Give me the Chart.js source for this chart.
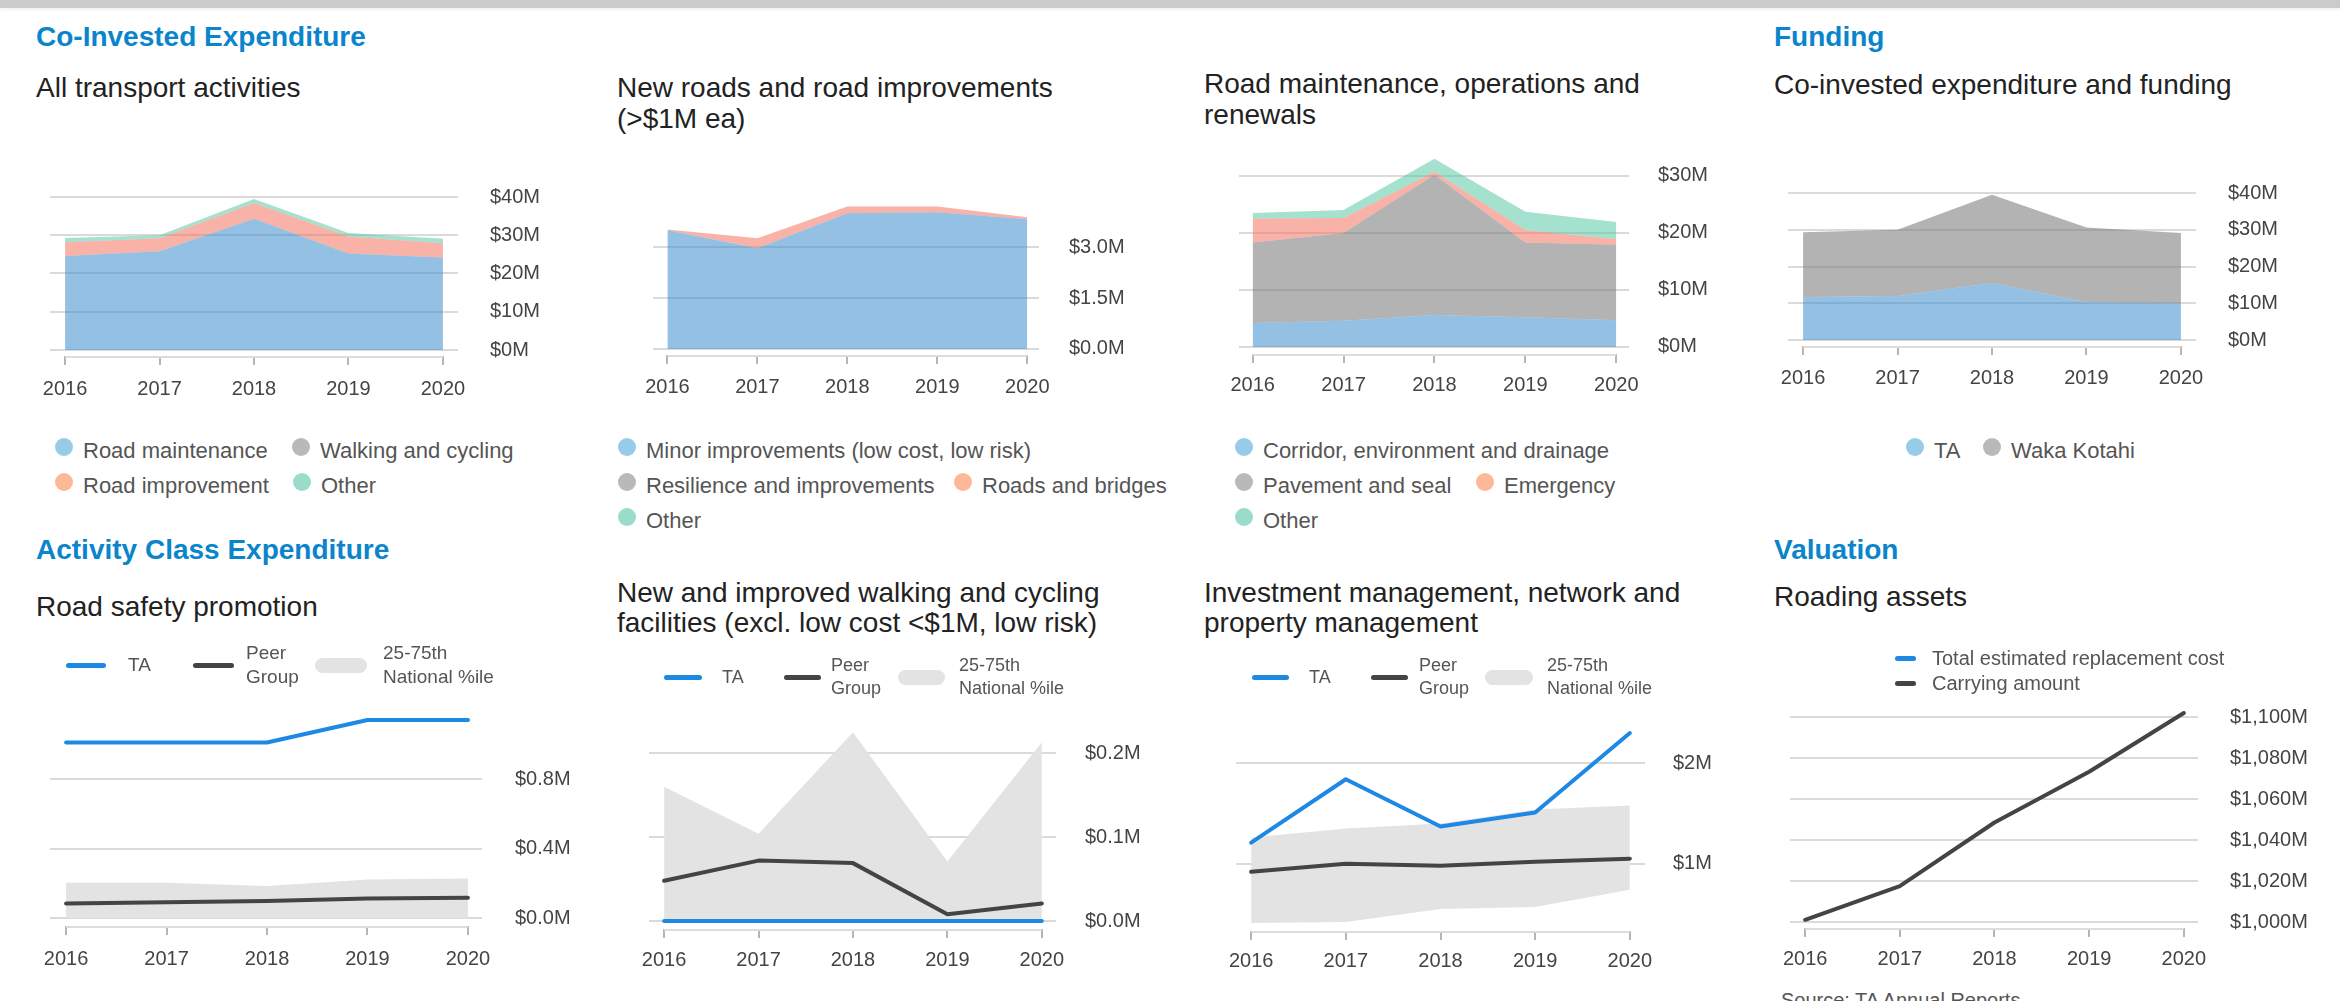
<!DOCTYPE html>
<html>
<head>
<meta charset="utf-8">
<script src="https://cdn.jsdelivr.net/npm/chart.js@4.4.1/dist/chart.umd.min.js"></script>
<style>
  body { margin: 0; width: 2340px; height: 1001px; overflow: hidden; background: #fff; position: relative;
         font-family: "Liberation Sans", Arial, sans-serif; }
  .topbar { position: absolute; left: 0; top: 0; width: 2340px; height: 8px; background: #cbcbcb; box-shadow: 0 2px 3px rgba(0,0,0,0.05); }
  .h { position: absolute; font-weight: bold; font-size: 28px; line-height: 28px; color: #0a85cc; white-space: nowrap; }
  .t { position: absolute; font-size: 28px; line-height: 31px; color: #222; white-space: nowrap; }
  .lg { position: absolute; display: flex; align-items: center; height: 24px; font-size: 22px; line-height: 24px; color: #555; white-space: nowrap; }
  .dot { width: 18px; height: 18px; border-radius: 50%; margin-right: 10px; position: relative; top: -4px; }
  .kt { position: absolute; color: #555; white-space: nowrap; }
  .sw { position: absolute; }
  .src { position: absolute; font-size: 20px; line-height: 20px; color: #555; white-space: nowrap; }
</style>
</head>
<body>
<div class="topbar"></div>

<div class="h" style="left:36px;top:23px">Co-Invested Expenditure</div>
<div class="h" style="left:1774px;top:23px">Funding</div>
<div class="h" style="left:36px;top:536px">Activity Class Expenditure</div>
<div class="h" style="left:1774px;top:536px">Valuation</div>

<div class="t" style="left:36px;top:72px">All transport activities</div>
<div class="t" style="left:617px;top:72px">New roads and road improvements<br>(&gt;$1M ea)</div>
<div class="t" style="left:1204px;top:68px">Road maintenance, operations and<br>renewals</div>
<div class="t" style="left:1774px;top:69px">Co-invested expenditure and funding</div>
<div class="t" style="left:36px;top:591px">Road safety promotion</div>
<div class="t" style="left:617px;top:578px;line-height:30px">New and improved walking and cycling<br>facilities (excl. low cost &lt;$1M, low risk)</div>
<div class="t" style="left:1204px;top:578px;line-height:30px">Investment management, network and<br>property management</div>
<div class="t" style="left:1774px;top:581px">Roading assets</div>

<div class="src" style="left:1781px;top:990px">Source: TA Annual Reports</div>

<script>
// ---- data ($M) ----
const years = [2016, 2017, 2018, 2019, 2020];

// Co-invested expenditure: all transport activities
const allLabels = ['Road maintenance', 'Walking and cycling', 'Road improvement', 'Other'];
const allRoadMaintenance = [24.6, 25.8, 34.3, 25.2, 24.2];
const allWalkingCycling = [0, 0, 0, 0, 0];
const allRoadImprovement = [3.6, 3.4, 4.1, 4.5, 3.7];
const allOther = [1.1, 0.8, 1.1, 0.9, 1.2];
const allTicks = [0, 10, 20, 30, 40];

// New roads and road improvements
const newLabels = ['Minor improvements (low cost, low risk)', 'Resilience and improvements', 'Roads and bridges', 'Other'];
const newMinor = [3.5, 2.97, 4.0, 4.03, 3.82];
const newResilience = [0, 0, 0, 0, 0];
const newRoadsBridges = [0.02, 0.29, 0.2, 0.17, 0.06];
const newOther = [0, 0, 0, 0, 0];
const newTicks = [0, 1.5, 3.0];

// Road maintenance, operations and renewals
const mntLabels = ['Corridor, environment and drainage', 'Pavement and seal', 'Emergency', 'Other'];
const mntCorridor = [4.2, 4.6, 5.6, 5.2, 4.7];
const mntPavement = [14.1, 15.4, 24.6, 13.1, 13.2];
const mntEmergency = [4.2, 2.6, 0.5, 2.2, 1.0];
const mntOther = [1.0, 1.4, 2.3, 3.2, 3.0];
const mntTicks = [0, 10, 20, 30];

// Funding
const fundLabels = ['TA', 'Waka Kotahi'];
const fundTA = [11.7, 12.0, 15.5, 10.3, 10.0];
const fundWaka = [17.6, 18.0, 24.0, 20.3, 19.1];
const fundTicks = [0, 10, 20, 30, 40];

// Activity class: TA, peer group, 25th and 75th national percentile
const keyLabels = ['TA', 'Peer\nGroup', '25-75th\nNational %ile'];

const rspTA = [1.01, 1.01, 1.01, 1.14, 1.14];
const rspPeer = [0.084, 0.09, 0.098, 0.113, 0.117];
const rspP25 = [0, 0, 0, 0, 0];
const rspP75 = [0.203, 0.203, 0.184, 0.222, 0.228];
const rspTicks = [0, 0.4, 0.8];

const wcTA = [0, 0, 0, 0, 0];
const wcPeer = [0.048, 0.072, 0.069, 0.008, 0.021];
const wcP25 = [0, 0, 0, 0, 0];
const wcP75 = [0.160, 0.104, 0.225, 0.071, 0.213];
const wcTicks = [0, 0.1, 0.2];

const imTA = [1.21, 1.84, 1.37, 1.51, 2.30];
const imPeer = [0.92, 1.00, 0.98, 1.02, 1.05];
const imP25 = [0.41, 0.42, 0.55, 0.57, 0.74];
const imP75 = [1.26, 1.35, 1.40, 1.54, 1.58];
const imTicks = [1, 2];

// Valuation: roading assets
const assetLabels = ['Total estimated replacement cost', 'Carrying amount'];
const assetReplacement = [null, null, null, null, null];
const assetCarrying = [1001.3, 1017.7, 1048.7, 1073.4, 1102];
const assetTicks = [1000, 1020, 1040, 1060, 1080, 1100];

// ---- colours ----
const areaBlue = 'rgba(60,140,205,0.55)';
const areaGray = 'rgba(128,128,128,0.6)';
const areaSalmon = 'rgba(242,115,95,0.55)';
const areaGreen = 'rgba(90,200,165,0.55)';
const dotColors = ['#97cbea', '#b9b9bb', '#fdb899', '#98dcc9'];
const taBlue = '#1e88e5';
const peerGray = '#444';
const bandGray = '#e3e3e3';

Chart.defaults.font.family = '"Liberation Sans", Arial, sans-serif';
Chart.defaults.font.size = 20;
Chart.defaults.color = '#444';

function xy(vals) {
  return years.map((yr, i) => ({ x: yr, y: vals[i] }));
}

function areaSet(label, vals, color, first) {
  return { label, data: xy(vals), backgroundColor: color, borderWidth: 0, pointRadius: 0, fill: first ? 'origin' : '-1' };
}

function lineSet(label, vals, color) {
  return { label, data: xy(vals), borderColor: color, borderWidth: 4, pointRadius: 0, fill: false,
           borderJoinStyle: 'round', borderCapStyle: 'round', tension: 0 };
}

function bandSets(lo, hi) {
  return [
    { label: '75th', data: xy(hi), borderWidth: 0, pointRadius: 0, backgroundColor: bandGray, fill: '+1' },
    { label: '25th', data: xy(lo), borderWidth: 0, pointRadius: 0, fill: false }
  ];
}

// short axis line between first and last year tick
const baseline = {
  id: 'baseline',
  beforeDatasetsDraw(chart) {
    const xs = chart.scales.x;
    const ticks = xs.ticks;
    const y = chart.chartArea.bottom + 1;
    const ctx = chart.ctx;
    ctx.save();
    ctx.strokeStyle = '#dcdcdc';
    ctx.lineWidth = 2;
    ctx.beginPath();
    ctx.moveTo(xs.getPixelForValue(ticks[0].value), y);
    ctx.lineTo(xs.getPixelForValue(ticks[ticks.length - 1].value), y);
    ctx.stroke();
    ctx.restore();
  }
};

function makeChart(c) {
  // padT / xH are larger than the label padding Chart.js asks for, so the plot area lands on l,r,t,b
  const padL = 40, padT = 50, yW = 120, xH = 60;
  const wrap = document.createElement('div');
  wrap.style.cssText = 'position:absolute;left:' + (c.l - padL) + 'px;top:' + (c.t - padT) + 'px;width:' +
    (c.r - c.l + padL + yW) + 'px;height:' + (c.b - c.t + padT + xH) + 'px';
  const cv = document.createElement('canvas');
  wrap.appendChild(cv);
  document.body.appendChild(wrap);

  return new Chart(cv, {
    type: 'line',
    data: { datasets: c.datasets },
    options: {
      responsive: true,
      maintainAspectRatio: false,
      animation: false,
      layout: { padding: { left: padL, top: padT, right: 0, bottom: 0 } },
      plugins: { legend: { display: false }, tooltip: { enabled: false } },
      scales: {
        x: {
          type: 'linear',
          min: c.xMin,
          max: c.xMax,
          afterFit: s => { s.height = xH; },
          afterBuildTicks: s => { s.ticks = years.map(v => ({ value: v })); },
          ticks: { callback: v => String(v), padding: c.xPad, maxRotation: 0, autoSkip: false },
          grid: { drawOnChartArea: false, color: '#b5b5b5', lineWidth: 2, tickLength: 9 },
          border: { display: false }
        },
        y: {
          position: 'right',
          stacked: !!c.stacked,
          min: c.yMin,
          max: c.yMax,
          afterFit: s => { s.width = yW; },
          afterBuildTicks: s => { s.ticks = c.ticks.map(v => ({ value: v })); },
          ticks: { callback: c.fmt, padding: c.yPad },
          grid: { color: '#dadada', lineWidth: 2, drawTicks: false },
          border: { display: false }
        }
      }
    },
    plugins: [baseline]
  });
}

const fmtM = v => '$' + v + 'M';
const fmtM1 = v => '$' + v.toFixed(1) + 'M';
const fmtThousands = v => '$' + v.toLocaleString('en-US') + 'M';

// ---- top row: stacked areas ----
makeChart({
  l: 50, r: 458, t: 197, b: 356, xMin: 2015.84, xMax: 2020.16, yMin: -1.57, yMax: 40,
  ticks: allTicks, fmt: fmtM, xPad: 12, yPad: 32, stacked: true,
  datasets: [
    areaSet(allLabels[0], allRoadMaintenance, areaBlue, true),
    areaSet(allLabels[1], allWalkingCycling, areaGray),
    areaSet(allLabels[2], allRoadImprovement, areaSalmon),
    areaSet(allLabels[3], allOther, areaGreen)
  ]
});

makeChart({
  l: 653, r: 1039, t: 203, b: 355, xMin: 2015.84, xMax: 2020.13, yMin: -0.18, yMax: 4.3,
  ticks: newTicks, fmt: fmtM1, xPad: 11, yPad: 30, stacked: true,
  datasets: [
    areaSet(newLabels[0], newMinor, areaBlue, true),
    areaSet(newLabels[1], newResilience, areaGray),
    areaSet(newLabels[2], newRoadsBridges, areaSalmon),
    areaSet(newLabels[3], newOther, areaGreen)
  ]
});

makeChart({
  l: 1239, r: 1629, t: 153, b: 354, xMin: 2015.85, xMax: 2020.14, yMin: -1.23, yMax: 34,
  ticks: mntTicks, fmt: fmtM, xPad: 10, yPad: 29, stacked: true,
  datasets: [
    areaSet(mntLabels[0], mntCorridor, areaBlue, true),
    areaSet(mntLabels[1], mntPavement, areaGray),
    areaSet(mntLabels[2], mntEmergency, areaSalmon),
    areaSet(mntLabels[3], mntOther, areaGreen)
  ]
});

makeChart({
  l: 1788, r: 2196, t: 193, b: 346, xMin: 2015.84, xMax: 2020.16, yMin: -1.63, yMax: 40,
  ticks: fundTicks, fmt: fmtM, xPad: 11, yPad: 32, stacked: true,
  datasets: [
    areaSet(fundLabels[0], fundTA, areaBlue, true),
    areaSet(fundLabels[1], fundWaka, areaGray)
  ]
});

// ---- bottom row: lines with percentile band ----
makeChart({
  l: 50, r: 482, t: 713, b: 926, xMin: 2015.84, xMax: 2020.14, yMin: -0.046, yMax: 1.18,
  ticks: rspTicks, fmt: fmtM1, xPad: 12, yPad: 33,
  datasets: [lineSet('TA', rspTA, taBlue), lineSet('Peer Group', rspPeer, peerGray)].concat(bandSets(rspP25, rspP75))
});

makeChart({
  l: 649, r: 1056, t: 728, b: 929, xMin: 2015.84, xMax: 2020.15, yMin: -0.0095, yMax: 0.23,
  ticks: wcTicks, fmt: fmtM1, xPad: 10, yPad: 29,
  datasets: [lineSet('TA', wcTA, taBlue), lineSet('Peer Group', wcPeer, peerGray)].concat(bandSets(wcP25, wcP75))
});

makeChart({
  l: 1236, r: 1645, t: 728, b: 931, xMin: 2015.84, xMax: 2020.16, yMin: 0.33, yMax: 2.35,
  ticks: imTicks, fmt: fmtM, xPad: 9, yPad: 28,
  datasets: [lineSet('TA', imTA, taBlue), lineSet('Peer Group', imPeer, peerGray)].concat(bandSets(imP25, imP75))
});

makeChart({
  l: 1790, r: 2198, t: 711, b: 928, xMin: 2015.84, xMax: 2020.15, yMin: 997.3, yMax: 1103,
  ticks: assetTicks, fmt: fmtThousands, xPad: 10, yPad: 32,
  datasets: [lineSet(assetLabels[0], assetReplacement, taBlue), lineSet(assetLabels[1], assetCarrying, peerGray)]
});

// ---- html legends ----
function dotItem(text, color, cx, cy) {
  const d = document.createElement('div');
  d.className = 'lg';
  d.style.left = (cx - 9) + 'px';
  d.style.top = (cy - 12) + 'px';
  d.innerHTML = '<span class="dot" style="background:' + color + '"></span>';
  d.appendChild(document.createTextNode(text));
  document.body.appendChild(d);
}

dotItem(allLabels[0], dotColors[0], 64, 451);
dotItem(allLabels[1], dotColors[1], 301, 451);
dotItem(allLabels[2], dotColors[2], 64, 486);
dotItem(allLabels[3], dotColors[3], 302, 486);

dotItem(newLabels[0], dotColors[0], 627, 451);
dotItem(newLabels[1], dotColors[1], 627, 486);
dotItem(newLabels[2], dotColors[2], 963, 486);
dotItem(newLabels[3], dotColors[3], 627, 521);

dotItem(mntLabels[0], dotColors[0], 1244, 451);
dotItem(mntLabels[1], dotColors[1], 1244, 486);
dotItem(mntLabels[2], dotColors[2], 1485, 486);
dotItem(mntLabels[3], dotColors[3], 1244, 521);

dotItem(fundLabels[0], dotColors[0], 1915, 451);
dotItem(fundLabels[1], dotColors[1], 1992, 451);

function swatch(x0, x1, cy, h, color, radius) {
  const s = document.createElement('div');
  s.className = 'sw';
  s.style.cssText += 'left:' + x0 + 'px;top:' + (cy - h / 2) + 'px;width:' + (x1 - x0) + 'px;height:' + h +
    'px;background:' + color + ';border-radius:' + radius + 'px';
  document.body.appendChild(s);
}

function keyText(text, x, firstCy, size, lh) {
  const d = document.createElement('div');
  d.className = 'kt';
  d.style.cssText += 'left:' + x + 'px;top:' + (firstCy - lh / 2) + 'px;font-size:' + size + 'px;line-height:' + lh + 'px';
  d.innerHTML = text.replace('\n', '<br>');
  document.body.appendChild(d);
}

function bandKey(k) {
  swatch(k.taX[0], k.taX[1], k.cy, 5, taBlue, 3);
  swatch(k.peerX[0], k.peerX[1], k.cy, 5, peerGray, 3);
  swatch(k.bandX[0], k.bandX[1], k.cy, 15, bandGray, 8);
  keyText(keyLabels[0], k.tx[0], k.cy, k.size, k.lh);
  keyText(keyLabels[1], k.tx[1], k.cy - k.lh / 2, k.size, k.lh);
  keyText(keyLabels[2], k.tx[2], k.cy - k.lh / 2, k.size, k.lh);
}

bandKey({ taX: [66, 106], peerX: [193, 234], bandX: [315, 367], cy: 665, tx: [128, 246, 383], size: 19, lh: 24 });
bandKey({ taX: [664, 702], peerX: [784, 821], bandX: [898, 945], cy: 677, tx: [722, 831, 959], size: 18, lh: 23 });
bandKey({ taX: [1252, 1289], peerX: [1371, 1408], bandX: [1485, 1533], cy: 677, tx: [1309, 1419, 1547], size: 18, lh: 23 });

swatch(1895, 1916, 658, 5, taBlue, 3);
swatch(1895, 1916, 683, 5, peerGray, 3);
keyText(assetLabels[0], 1932, 658, 20, 24);
keyText(assetLabels[1], 1932, 683, 20, 24);
</script>
</body>
</html>
